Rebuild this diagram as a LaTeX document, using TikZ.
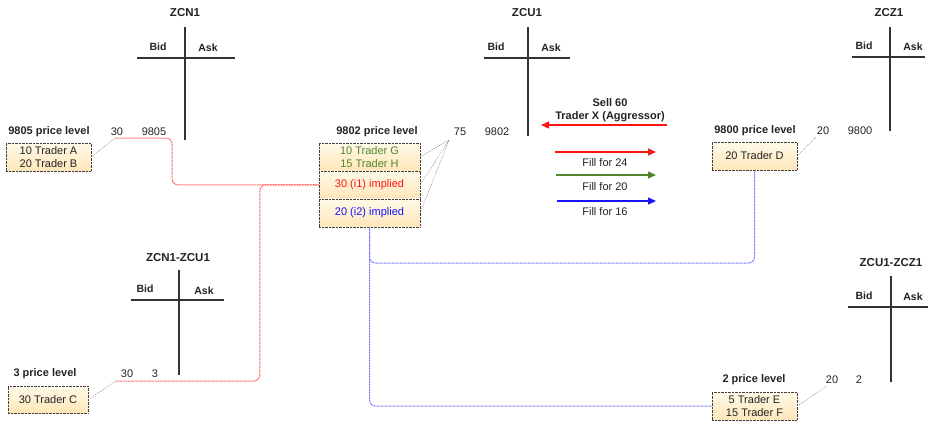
\documentclass[tikz,border=0pt]{standalone}
\usepackage{fontspec}
\setmainfont{Liberation Sans}
\usetikzlibrary{arrows.meta, positioning}
\definecolor{boxtop}{RGB}{255,250,232}
\definecolor{boxbot}{RGB}{255,230,185}
\definecolor{fillr}{RGB}{255,20,20}
\definecolor{fillg}{RGB}{80,135,45}
\definecolor{fillb}{RGB}{20,20,255}
\definecolor{txtc}{RGB}{35,35,35}

\begin{document}
\begin{tikzpicture}[x=1pt,y=-1pt,
    font=\fontsize{11}{12.5}\selectfont, text=txtc,
    title/.style={font=\fontsize{11.5}{13}\selectfont\bfseries},
    side/.style={font=\fontsize{10.5}{12}\selectfont\bfseries},
    level/.style={font=\fontsize{11}{12.5}\selectfont\bfseries},
    book/.style={line width=1.7pt, black!80},
    order/.style={draw=black!75, densely dotted, top color=boxtop, bottom color=boxbot,
      align=center, inner sep=0pt, minimum width=85pt, minimum height=28pt},
    leader/.style={black!55, dash pattern=on 1pt off 1pt},
    redline/.style={red!65, dash pattern=on 1pt off 0.6pt, line width=1pt, rounded corners=6pt},
    blueline/.style={blue!55, dash pattern=on 1pt off 0.6pt, line width=1pt, rounded corners=6pt},
    fillarrow/.style={line width=1.3pt, -{Triangle[length=8pt,width=7pt]}}]
  \useasboundingbox (0,0) rectangle (928,423);
  % order books (T frames)
  \node[title] (tZCN1) at (185,13) {ZCN1};
  \draw[book] (185,27) -- (185,140);
  \draw[book] (137,58) -- (235,58);
  \node[side] (bZCN1) at (158,47) {Bid};
  \node[side] (aZCN1) at (208,48) {Ask};
  \node[title] (tZCU1) at (527,13) {ZCU1};
  \draw[book] (528,27) -- (528,136);
  \draw[book] (484,58) -- (570,58);
  \node[side] (bZCU1) at (496,47) {Bid};
  \node[side] (aZCU1) at (551,48) {Ask};
  \node[title] (tZCZ1) at (889,13) {ZCZ1};
  \draw[book] (890,27) -- (890,131);
  \draw[book] (852,57) -- (925,57);
  \node[side] (bZCZ1) at (864,46) {Bid};
  \node[side] (aZCZ1) at (913,47) {Ask};
  \node[title] (tNU) at (178,258) {ZCN1-ZCU1};
  \draw[book] (179,270) -- (179,375);
  \draw[book] (131,300) -- (224,300);
  \node[side] (bNU) at (145,289) {Bid};
  \node[side] (aNU) at (204,291) {Ask};
  \node[title] (tUZ) at (891,263) {ZCU1-ZCZ1};
  \draw[book] (891,276) -- (891,382);
  \draw[book] (848,307) -- (928,307);
  \node[side] (bUZ) at (864,296) {Bid};
  \node[side] (aUZ) at (913,297) {Ask};
  % price levels
  \node[level] (lvA) at (49,132) {9805 price level};
  \node (qA) at (117,132) {30};
  \node (pA) at (154,132) {9805};
  \node[order] (ordA) at (48.5,157) {10 Trader A\\20 Trader B};
  \coordinate (jA) at (115,138);
  \node[level] (lvC) at (45,374) {3 price level};
  \node (qC) at (127,374) {30};
  \node (pC) at (155,374) {3};
  \node[order, minimum width=80pt, minimum height=27pt] (ordC) at (48,399.5) {30 Trader C};
  \coordinate (jC) at (116,381);
  \node[level] (lvG) at (377,132) {9802 price level};
  \node (qG) at (460,132) {75};
  \node (pG) at (497,132) {9802};
  \node[order, minimum width=101pt, text=fillg] (ordGH) at (369.5,157) {10 Trader G\\15 Trader H};
  \node[order, minimum width=101pt, minimum height=27pt, text=fillr, below=0pt of ordGH] (ordI1) {30 (i1) implied};
  \node[order, minimum width=101pt, text=fillb, below=0pt of ordI1] (ordI2) {20 (i2) implied};
  \coordinate (jG) at (449,140);
  \node[level] (lvD) at (755,131) {9800 price level};
  \node (qD) at (823,131) {20};
  \node (pD) at (860,131) {9800};
  \node[order] (ordD) at (754.5,156) {20 Trader D};
  \coordinate (jD) at (816,137);
  \node[level] (lvE) at (754,380) {2 price level};
  \node (qE) at (832,380) {20};
  \node (pE) at (859,380) {2};
  \node[order] (ordEF) at (754.5,406) {5 Trader E\\15 Trader F};
  \coordinate (jE) at (827,386);
  % leaders
  \draw[leader] (ordA.east) -- (jA);
  \draw[leader] (ordC.east) -- (jC);
  \draw[leader] (ordGH.east) -- (jG);
  \draw[leader] (ordI1.east) -- (jG);
  \draw[leader] (ordI2.east) -- (jG);
  \draw[leader] (ordD.east) -- (jD);
  \draw[leader] (ordEF.east) -- (jE);
  % implied links
  \draw[redline] (ordI1.west) -| (172,138) -- (jA);
  \draw[redline] (ordI1.west) -- ++(-59,0) |- (jC);
  \draw[blueline] (ordI2.south) -- ++(0,36) -| (ordD.south);
  \draw[blueline] (ordI2.south) |- (ordEF.west);
  % aggressor and fills
  \node[level, align=center] (sell) at (610,110) {Sell 60\\Trader X (Aggressor)};
  \coordinate (sellR) at (667,125);
  \coordinate (sellL) at (541,125);
  \draw[fillarrow, fillr] (sellR) -- (sellL);
  \coordinate (f24a) at (555,152);
  \coordinate (f24b) at (656,152);
  \draw[fillarrow, fillr] (f24a) -- (f24b);
  \node (fill24) at (605,163) {Fill for 24};
  \coordinate (f20a) at (556,175);
  \coordinate (f20b) at (656,175);
  \draw[fillarrow, fillg] (f20a) -- (f20b);
  \node (fill20) at (605,187) {Fill for 20};
  \coordinate (f16a) at (557,201);
  \coordinate (f16b) at (656,201);
  \draw[fillarrow, fillb] (f16a) -- (f16b);
  \node (fill16) at (605,212) {Fill for 16};
\end{tikzpicture}
\end{document}
